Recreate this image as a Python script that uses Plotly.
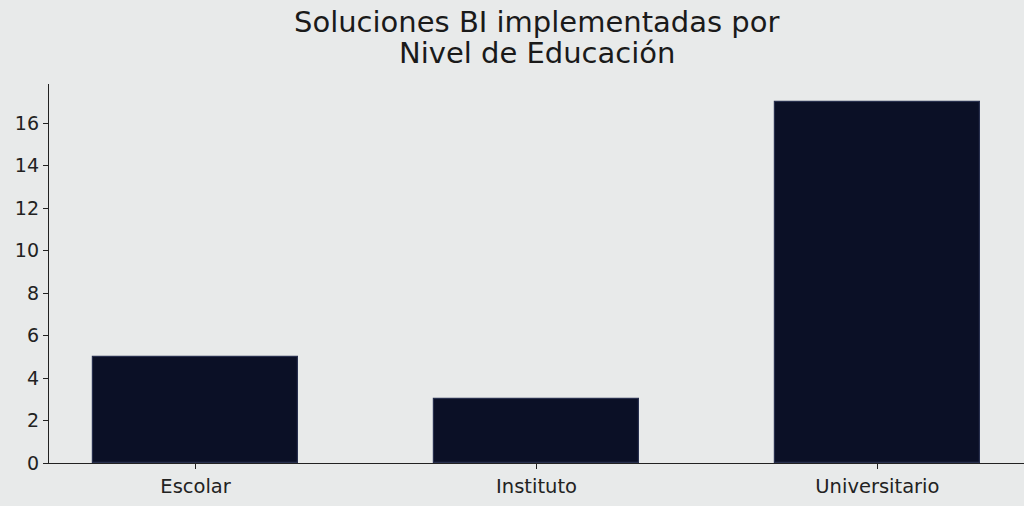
import plotly.graph_objects as go

# Soluciones BI por nivel de educacion
niveles = ["Escolar", "Instituto", "Universitario"]
soluciones = [5, 3, 17]

titulo_l1 = "Soluciones BI implementadas por"
titulo_l2 = "Nivel de Educación"

fondo = "#e8eaea"
barra = "#0b1026"

fig = go.Figure()
fig.add_trace(go.Bar(
    x=niveles, y=soluciones,
    width=0.6,
    marker=dict(color=barra, line=dict(color="#28304e", width=1.2)),
))

# two lines of title as annotations so the line spacing stays tight
fig.add_annotation(text=titulo_l1, xref="paper", yref="paper", x=0.5, y=1.1636,
                   xanchor="center", yanchor="middle", showarrow=False,
                   font=dict(size=29, color="#1a1a1a"))
fig.add_annotation(text=titulo_l2, xref="paper", yref="paper", x=0.5, y=1.0818,
                   xanchor="center", yanchor="middle", showarrow=False,
                   font=dict(size=29, color="#1a1a1a"))

fig.update_layout(
    width=1024, height=506,
    margin=dict(l=49, r=0, t=84, b=43),
    paper_bgcolor=fondo, plot_bgcolor=fondo,
    font=dict(family="DejaVu Sans", color="#222222", size=19),
    showlegend=False,
    bargap=0,
)
fig.update_xaxes(range=[-0.43, 2.43], showline=True, linecolor="#222222", linewidth=1.3,
                 ticks="outside", ticklen=5, tickcolor="#222222", showgrid=False,
                 tickfont=dict(size=19.5))
fig.update_yaxes(range=[0, 17.85], tickvals=[0, 2, 4, 6, 8, 10, 12, 14, 16],
                 showline=True, linecolor="#222222", linewidth=1.3,
                 ticks="outside", ticklen=5, tickcolor="#222222", showgrid=False,
                 zeroline=False, tickfont=dict(size=19))

# page margin off so the figure sits at the window corner
fig.write_html("out.html", config={"displayModeBar": False},
               post_script="document.body.style.margin='0';document.body.style.background='%s';" % fondo)
